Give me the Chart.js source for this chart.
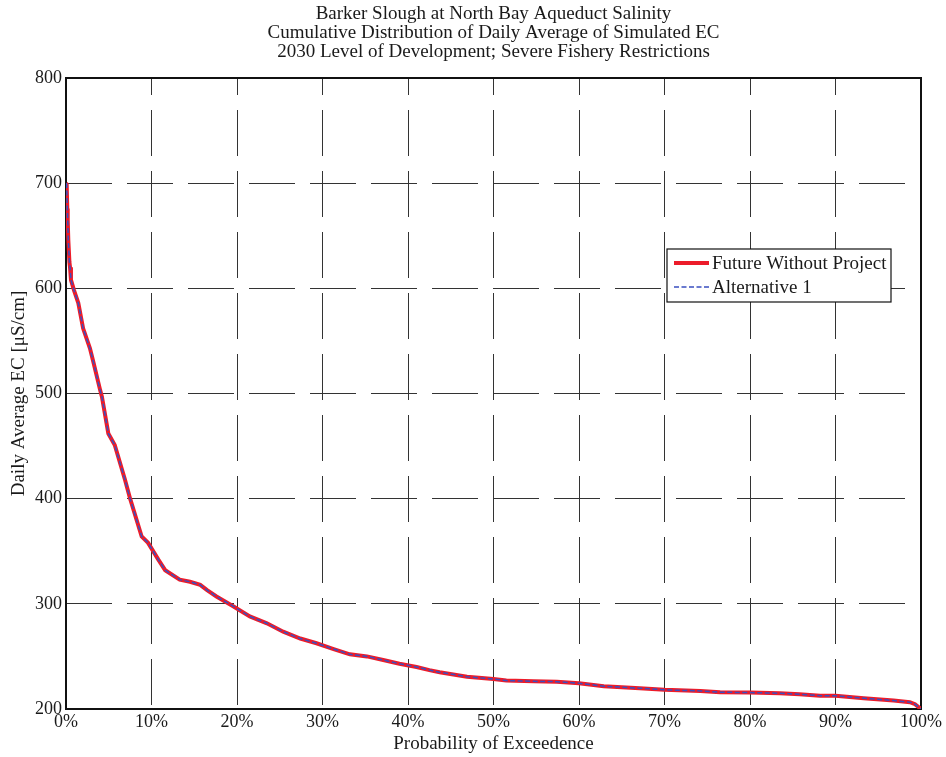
<!DOCTYPE html>
<html><head><meta charset="utf-8">
<script src="https://cdn.jsdelivr.net/npm/chart.js@4/dist/chart.umd.min.js"></script>
<style>html,body{margin:0;padding:0;background:#fff;}</style>
</head><body>
<canvas id="c" width="946" height="757"></canvas>
<script>
const titleLines = [
  "Barker Slough at North Bay Aqueduct Salinity",
  "Cumulative Distribution of Daily Average of Simulated EC",
  "2030 Level of Development; Severe Fishery Restrictions"
];
const xAxisTitle = "Probability of Exceedence";
const yAxisTitle = "Daily Average EC [\u03BCS/cm]";
const seriesNames = ["Future Without Project", "Alternative 1"];
const xTickValues = [0,10,20,30,40,50,60,70,80,90,100];
const yTickValues = [200,300,400,500,600,700,800];

const probPct = [0,0.08,0.15,0.2,0.27,0.4,0.47,0.58,0.94,1.44,2.0,2.8,3.2,4.0,4.2,4.95,5.7,6.9,7.5,8.85,9.6,10.8,11.6,13.3,14.5,15.7,16.5,17.6,19.6,21.5,23.5,25.4,27.4,29.3,31.3,33.2,35.2,37.1,39,41,42.5,43.7,46.9,50,51.5,54.7,57.4,60,62.9,67.1,70,74.2,76.5,80,83.5,85.8,88.2,90,93.3,96.8,98.7,99.3,100];
const ecFutureWithout = [700,699,676,665,646,625,620,608,598,586,562,543,530,503,497,462,451,418,400,364,358,342,332,323,321,318,313,307,297.5,288,281.5,273.5,267,262.5,257,252,250,246.6,243,240,237,235,230.7,228.5,227,226.3,226,224.5,221.7,219.8,218.2,217.2,216,215.6,215,214,212.7,212.5,210.3,208,206.5,204.6,200];
const ecAlternative1 = [700,699,676,665,646,625,620,608,598,586,562,543,530,503,497,462,451,418,400,364,358,342,332,323,321,318,313,307,297.5,288,281.5,273.5,267,262.5,257,252,250,246.6,243,240,237,235,230.7,228.5,227,226.3,226,224.5,221.7,219.8,218.2,217.2,216,215.6,215,214,212.7,212.5,210.3,208,206.5,204.6,200];

const FONT = '"Liberation Serif", "Times New Roman", serif';
const TXT = '#1a1a1a';
const toPts = (xs, ys) => xs.map((x, i) => ({x: x, y: ys[i]}));

const framePlugin = {
  id: 'frame',
  beforeDatasetsDraw(chart) {
    const {ctx, chartArea: a} = chart;
    ctx.save();
    ctx.strokeStyle = '#111';
    ctx.lineWidth = 2;
    ctx.strokeRect(a.left, a.top, a.right - a.left, a.bottom - a.top);
    ctx.restore();
  }
};

const legendPlugin = {
  id: 'boxLegend',
  afterDatasetsDraw(chart) {
    const {ctx, chartArea: a} = chart;
    const x0 = a.right - 254, y0 = a.top + 171, w = 224, h = 53;
    ctx.save();
    ctx.fillStyle = '#fff';
    ctx.fillRect(x0, y0, w, h);
    ctx.strokeStyle = '#111';
    ctx.lineWidth = 1.2;
    ctx.strokeRect(x0, y0, w, h);
    ctx.font = '19px ' + FONT;
    ctx.textBaseline = 'middle';
    ctx.fillStyle = TXT;
    chart.data.datasets.forEach((ds, i) => {
      const y = y0 + 14 + i * 24;
      ctx.strokeStyle = ds.borderColor;
      ctx.lineWidth = ds.borderWidth;
      ctx.setLineDash(ds.borderDash || []);
      ctx.beginPath();
      ctx.moveTo(x0 + 7, y);
      ctx.lineTo(x0 + 42, y);
      ctx.stroke();
      ctx.setLineDash([]);
      ctx.fillText(ds.label, x0 + 45, y + 1);
    });
    ctx.restore();
  }
};

new Chart(document.getElementById('c'), {
  type: 'line',
  data: {
    datasets: [
      {label: seriesNames[0], data: toPts(probPct, ecFutureWithout), order: 2, borderColor: '#ec1c2a', borderWidth: 4, pointRadius: 0, tension: 0, fill: false},
      {label: seriesNames[1], data: toPts(probPct, ecAlternative1), order: 1, borderColor: '#3a4fc0', borderWidth: 1.5, borderDash: [5, 2.5], pointRadius: 0, tension: 0, fill: false}
    ]
  },
  options: {
    responsive: false,
    animation: false,
    devicePixelRatio: 1,
    layout: {padding: {left: 0, right: 25, top: 0, bottom: 0}},
    plugins: {
      legend: {display: false},
      tooltip: {enabled: false},
      title: {
        display: true,
        fullSize: false,
        text: titleLines,
        color: TXT,
        font: {family: FONT, size: 19, weight: 'normal', lineHeight: 1.0},
        padding: {top: 5, bottom: 16}
      }
    },
    scales: {
      x: {
        type: 'linear',
        min: 0, max: 100,
        afterBuildTicks: s => { s.ticks = xTickValues.map(v => ({value: v})); },
        afterFit: s => { s.height = 48; },
        ticks: {callback: v => v + '%', color: TXT, font: {family: FONT, size: 18}, padding: 2, autoSkip: false, maxRotation: 0},
        grid: {color: '#333', lineWidth: 1, drawTicks: false},
        border: {display: false, dash: [46, 15], dashOffset: 29},
        title: {display: true, text: xAxisTitle, color: TXT, font: {family: FONT, size: 19, lineHeight: 1.2}, padding: {top: 0, bottom: 2}}
      },
      y: {
        type: 'linear',
        min: 200, max: 800,
        afterBuildTicks: s => { s.ticks = yTickValues.map(v => ({value: v})); },
        afterFit: s => { s.width = 66; },
        ticks: {color: TXT, font: {family: FONT, size: 18}, padding: 4},
        grid: {color: '#333', lineWidth: 1, drawTicks: false},
        border: {display: false, dash: [46, 15], dashOffset: 0},
        title: {display: true, text: yAxisTitle, color: TXT, font: {family: FONT, size: 19, lineHeight: 1.2}, padding: {top: 8, bottom: 0}}
      }
    }
  },
  plugins: [framePlugin, legendPlugin]
});
</script>
</body></html>
